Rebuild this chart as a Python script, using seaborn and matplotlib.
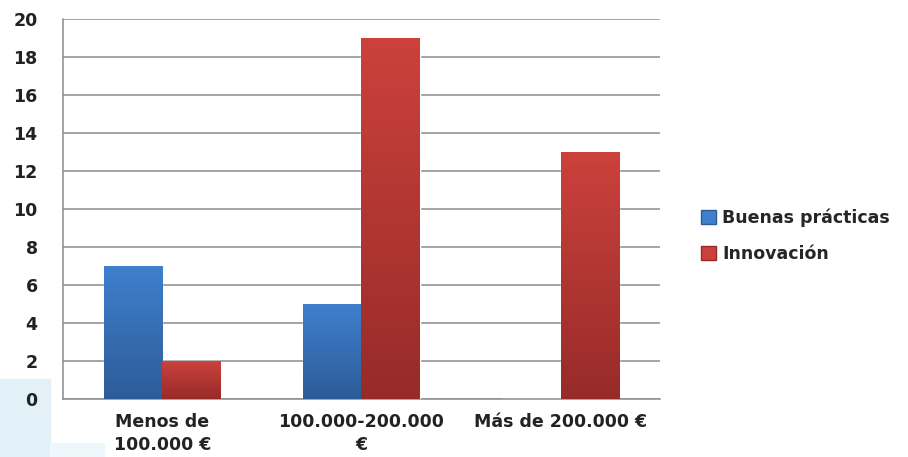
import matplotlib
matplotlib.use('Agg')

import numpy as np
import pandas as pd
import matplotlib.pyplot as plt
import seaborn as sns
from matplotlib.colors import LinearSegmentedColormap
from matplotlib.patches import Rectangle, Patch

# data
categories = ["Menos de\n100.000 €", "100.000-200.000\n€", "Más de 200.000 €"]
series = ["Buenas prácticas", "Innovación"]
buenas = [7, 5, 0]
innovacion = [2, 19, 13]

df = pd.DataFrame({
    "cat": categories * 2,
    "serie": [series[0]] * 3 + [series[1]] * 3,
    "valor": buenas + innovacion,
})

colors = {"Buenas prácticas": ("#3f7fcd", "#2d5c98"),
          "Innovación": ("#cc413c", "#972b29")}

sns.set_style("white")
plt.rcParams['font.family'] = ['DejaVu Sans']

fig = plt.figure(figsize=(9.08, 4.57), dpi=100)
# faint watermark shapes in the background
fig.patches.append(Rectangle((0, 0), 0.055, 0.17, transform=fig.transFigure,
                             color="#e2f1f7", zorder=-5))
fig.patches.append(Rectangle((0.055, 0), 0.06, 0.03, transform=fig.transFigure,
                             color="#eef7fb", zorder=-5))
ax = fig.add_axes([0.069, 0.127, 0.658, 0.831])
ax.patch.set_alpha(0)

sns.barplot(data=df, x="cat", y="valor", hue="serie", ax=ax, width=0.585,
            palette={k: v[0] for k, v in colors.items()}, legend=False,
            saturation=1, zorder=3)

# vertical gradient on every bar
for bar, serie in zip(ax.patches, [series[0]] * 3 + [series[1]] * 3):
    x0, y0 = bar.get_x(), bar.get_y()
    w, h = bar.get_width(), bar.get_height()
    if h <= 0:
        continue
    top, bottom = colors[serie]
    cmap = LinearSegmentedColormap.from_list("g", [bottom, top])
    grad = np.linspace(0, 1, 100).reshape(-1, 1)
    im = ax.imshow(grad, cmap=cmap, aspect="auto", origin="lower",
                   extent=[x0, x0 + w, y0, y0 + h], zorder=4)
    im.set_clip_path(bar)

ax.set_xlim(-0.5, 2.5)
ax.set_ylim(0, 20)
ax.set_yticks(range(0, 21, 2))
ax.yaxis.grid(True, color="#8c8c8c", linewidth=1.1, zorder=0)
ax.set_axisbelow(True)
for s in ["top", "right"]:
    ax.spines[s].set_visible(False)
for s in ["left", "bottom"]:
    ax.spines[s].set_color("#8c8c8c")
    ax.spines[s].set_linewidth(1.1)
ax.tick_params(length=0, labelsize=12.5, colors="#222222")
ax.tick_params(axis="x", pad=10)
ax.tick_params(axis="y", pad=18)
ax.set_xlabel("")
ax.set_ylabel("")
for t in ax.get_yticklabels() + ax.get_xticklabels():
    t.set_fontweight("bold")
for t in ax.get_xticklabels():
    t.set_linespacing(1.35)

handles = [Patch(facecolor=colors[s][0], edgecolor=colors[s][1], label=s) for s in series]
fig.legend(handles=handles, loc="center left", bbox_to_anchor=(0.755, 0.484),
           frameon=False, handlelength=0.85, handleheight=0.85,
           handletextpad=0.35, labelspacing=1.0,
           prop={"weight": "bold", "size": 12.5})

fig.savefig("out.png", dpi=100)
